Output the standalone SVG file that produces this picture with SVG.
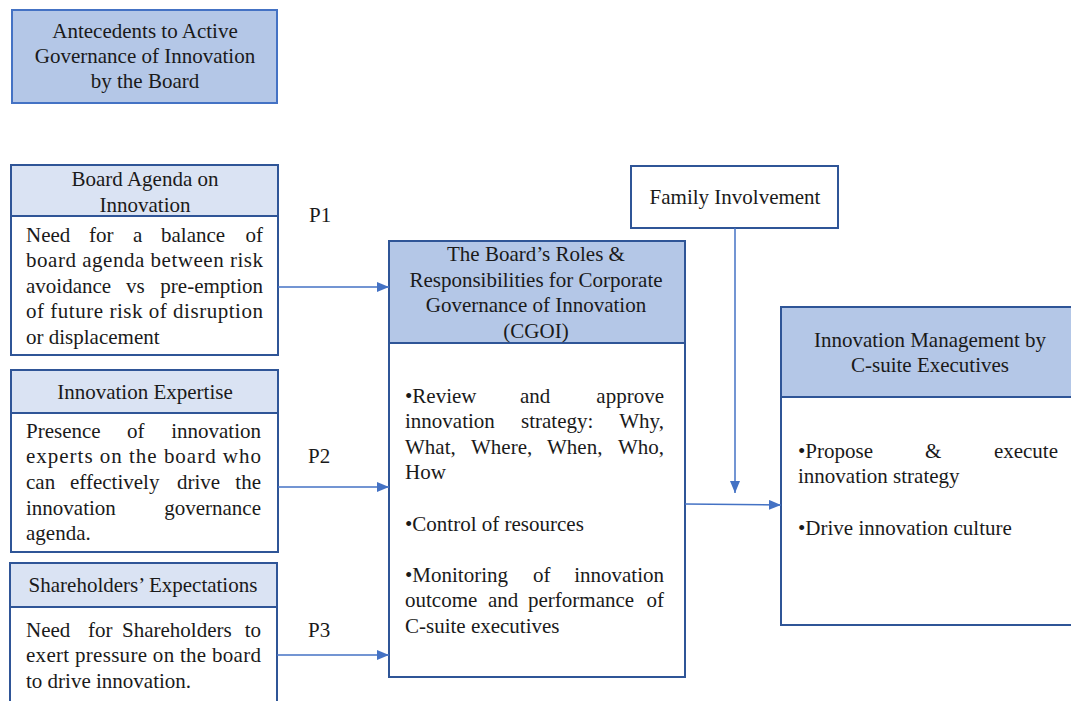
<svg xmlns="http://www.w3.org/2000/svg" width="1071" height="701" viewBox="0 0 1071 701">
<style>
text{font-family:"Liberation Serif","Times New Roman",serif;font-size:21px;fill:#1a1a1a}
.c{text-anchor:middle}
.e{text-anchor:end}
.hd{fill:#B4C7E7;stroke:#2F5597;stroke-width:2}
.lh{fill:#DAE3F3;stroke:#2F5597;stroke-width:2}
.bd{fill:#ffffff;stroke:#2F5597;stroke-width:2}
.cn{stroke:#4472C4;stroke-width:1.5;fill:none}
</style>
<defs>
<marker id="ah" markerWidth="12" markerHeight="10" refX="12" refY="5" orient="auto" markerUnits="userSpaceOnUse">
<path d="M0,0 L12,5 L0,10 Z" fill="#4472C4"/>
</marker>
</defs>
<rect width="1071" height="701" fill="#ffffff"/>

<g id="antecedents">
<rect x="12" y="10" width="265" height="93" fill="#B4C7E7" stroke="#4472C4" stroke-width="2"/>
<text class="c" x="145" y="38">Antecedents to Active</text>
<text class="c" x="145" y="63">Governance of Innovation</text>
<text class="c" x="145" y="88">by the Board</text>
</g>

<g id="board-agenda">
<rect class="lh" x="11" y="165" width="267" height="51"/>
<rect class="bd" x="11" y="216" width="267" height="139"/>
<text class="c" x="145" y="186">Board Agenda on</text>
<text class="c" x="145" y="212">Innovation</text>
<text y="242"><tspan x="26">Need</tspan><tspan x="89">for</tspan><tspan x="133">a</tspan><tspan x="161">balance</tspan><tspan x="263" text-anchor="end">of</tspan></text>
<text x="26" y="267" textLength="237" lengthAdjust="spacing">board agenda between risk</text>
<text y="293"><tspan x="26">avoidance</tspan><tspan x="126">vs</tspan><tspan x="263" text-anchor="end">pre-emption</tspan></text>
<text x="26" y="318" textLength="237" lengthAdjust="spacing">of future risk of disruption</text>
<text x="26" y="344">or displacement</text>
</g>

<g id="innovation-expertise">
<rect class="lh" x="11" y="370" width="267" height="43"/>
<rect class="bd" x="11" y="413" width="267" height="139"/>
<text class="c" x="145" y="399">Innovation Expertise</text>
<text y="438"><tspan x="26">Presence</tspan><tspan x="127">of</tspan><tspan x="261" text-anchor="end">innovation</tspan></text>
<text x="26" y="463" textLength="235" lengthAdjust="spacing">experts on the board who</text>
<text y="489"><tspan x="26">can</tspan><tspan x="70">effectively</tspan><tspan x="177">drive</tspan><tspan x="261" text-anchor="end">the</tspan></text>
<text y="515"><tspan x="26">innovation</tspan><tspan x="261" text-anchor="end">governance</tspan></text>
<text x="26" y="540">agenda.</text>
</g>

<g id="shareholders">
<rect class="lh" x="10" y="563" width="267" height="44"/>
<rect class="bd" x="10" y="607" width="267" height="100"/>
<text class="c" x="143" y="592">Shareholders’ Expectations</text>
<text y="637"><tspan x="26">Need</tspan><tspan x="88">for</tspan><tspan x="122">Shareholders</tspan><tspan x="261" text-anchor="end">to</tspan></text>
<text x="26" y="662" textLength="235" lengthAdjust="spacing">exert pressure on the board</text>
<text x="26" y="688">to drive innovation.</text>
</g>

<g id="cgoi">
<rect class="hd" x="389" y="241" width="296" height="102"/>
<rect class="bd" x="389" y="343" width="296" height="334"/>
<text class="c" x="536" y="261">The Board’s Roles &amp;</text>
<text class="c" x="536" y="287">Responsibilities for Corporate</text>
<text class="c" x="536" y="312">Governance of Innovation</text>
<text class="c" x="536" y="338">(CGOI)</text>
<text y="403"><tspan x="405">•Review</tspan><tspan x="520">and</tspan><tspan x="664" text-anchor="end">approve</tspan></text>
<text y="428"><tspan x="405">innovation</tspan><tspan x="521">strategy:</tspan><tspan x="664" text-anchor="end">Why,</tspan></text>
<text y="454"><tspan x="405">What,</tspan><tspan x="471">Where,</tspan><tspan x="547">When,</tspan><tspan x="664" text-anchor="end">Who,</tspan></text>
<text x="405" y="479">How</text>
<text x="405" y="531">•Control of resources</text>
<text y="582"><tspan x="405">•Monitoring</tspan><tspan x="533">of</tspan><tspan x="664" text-anchor="end">innovation</tspan></text>
<text y="607"><tspan x="405">outcome</tspan><tspan x="488">and</tspan><tspan x="528">performance</tspan><tspan x="664" text-anchor="end">of</tspan></text>
<text x="405" y="633">C-suite executives</text>
</g>

<g id="family">
<rect class="bd" x="631" y="166" width="207" height="62"/>
<text class="c" x="735" y="204">Family Involvement</text>
</g>

<g id="management">
<rect class="hd" x="781" y="307" width="296" height="90"/>
<rect class="bd" x="781" y="397" width="296" height="228"/>
<text class="c" x="930" y="347">Innovation Management by</text>
<text class="c" x="930" y="372">C-suite Executives</text>
<text y="458"><tspan x="798">•Propose</tspan><tspan x="925">&amp;</tspan><tspan x="1058" text-anchor="end">execute</tspan></text>
<text x="798" y="483">innovation strategy</text>
<text x="798" y="535">•Drive innovation culture</text>
</g>

<g id="connectors">
<line class="cn" x1="278" y1="287" x2="389" y2="287" marker-end="url(#ah)"/>
<line class="cn" x1="278" y1="487" x2="389" y2="487" marker-end="url(#ah)"/>
<line class="cn" x1="277" y1="655" x2="389" y2="655" marker-end="url(#ah)"/>
<line class="cn" x1="685" y1="504" x2="781" y2="505" marker-end="url(#ah)"/>
<line class="cn" x1="735" y1="228" x2="735" y2="493" marker-end="url(#ah)"/>
<text x="309" y="222">P1</text>
<text x="308" y="463">P2</text>
<text x="308" y="637">P3</text>
</g>
</svg>
